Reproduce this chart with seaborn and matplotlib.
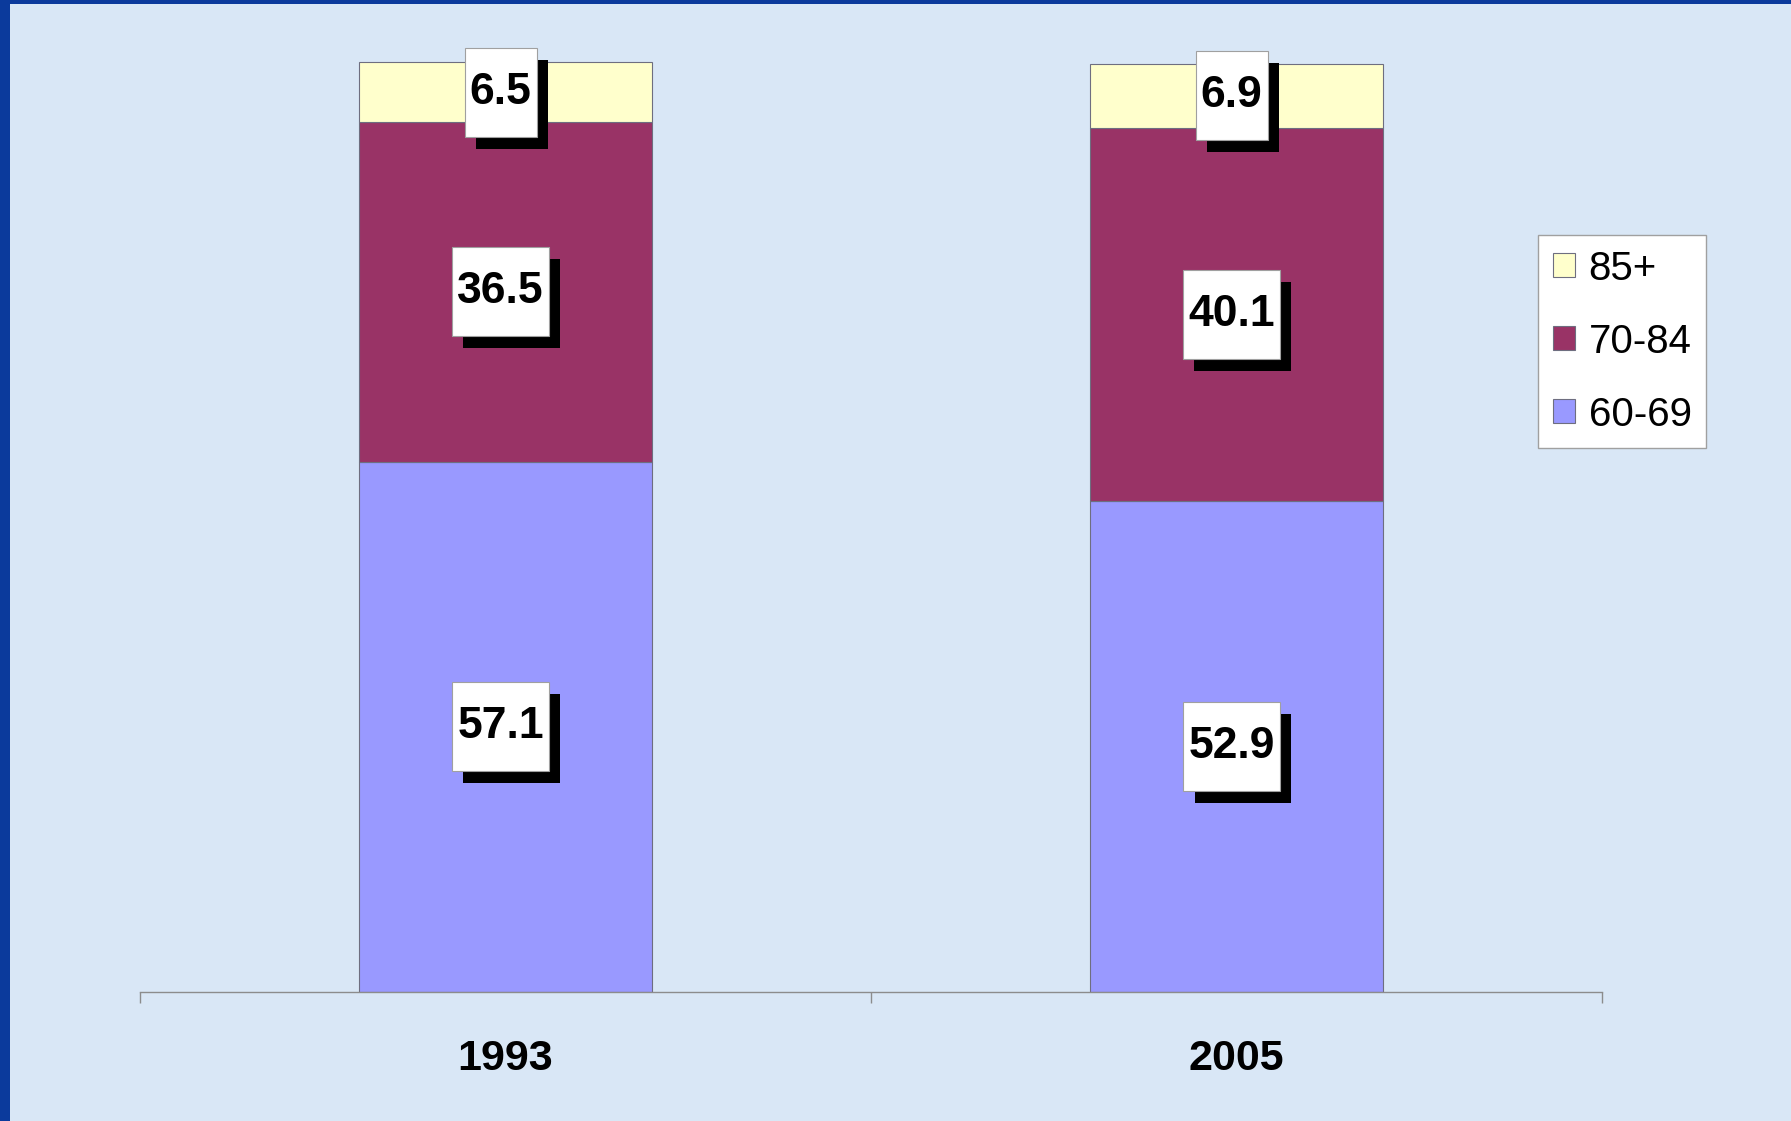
import matplotlib
matplotlib.use('Agg')
import matplotlib.pyplot as plt
import matplotlib.patheffects as pe
from matplotlib.path import Path
from matplotlib.patches import Rectangle
import seaborn as sns
import numpy as np
import pandas as pd

# ---- data ----
years = ['1993', '2005']
age_groups = ['60-69', '70-84', '85+']
share_60_69 = [57.1, 52.9]
share_70_84 = [36.5, 40.1]
share_85_plus = [6.5, 6.9]

# ---- style ----
colors = ['#9999FF', '#993366', '#FFFFCC']
BG = '#d9e7f6'
W, H = 1791, 1121

sns.set_style('white')
plt.rcParams['font.family'] = ['Liberation Sans', 'DejaVu Sans']
plt.rcParams['text.color'] = 'black'
plt.rcParams['xtick.labelcolor'] = 'black'

fig = plt.figure(figsize=(W / 100, H / 100), dpi=100, facecolor=BG)
ax = fig.add_axes([140 / W, 1 - 992 / H, (1602 - 140) / W, (992 - 53.7) / H])
ax.set_facecolor('none')

series = [share_60_69, share_70_84, share_85_plus]
bottom = np.zeros(len(years))
for name, vals, col in zip(age_groups, series, colors):
    df = pd.DataFrame({'year': years, 'share': vals})
    sns.barplot(data=df, x='year', y='share', color=col, saturation=1,
                width=0.4, bottom=bottom.copy(), edgecolor='#6e6e80',
                linewidth=0.8, ax=ax, label=name, errorbar=None)
    bottom = bottom + np.array(vals)


def label_box(x0, y0, width, height, mutation_size):
    px, py = 5, 24
    xa, ya = x0 - px, y0 - py
    xb, yb = x0 + width + px, y0 + height + py
    return Path([(xa, ya), (xb, ya), (xb, yb), (xa, yb), (xa, ya)], closed=True)


for cont, vals in zip(ax.containers, series):
    for patch, v in zip(cont.patches, vals):
        xc = patch.get_x() + patch.get_width() / 2
        yc = patch.get_y() + patch.get_height() / 2
        t = ax.annotate(f'{v:.1f}', xy=(xc, yc), xytext=(-3.5, 0),
                        textcoords='offset points', ha='center', va='center',
                        fontsize=32, fontweight='bold', color='black',
                        bbox=dict(boxstyle=label_box, facecolor='white',
                                  edgecolor='#a0a0a0', linewidth=0.8),
                        zorder=5)
        t.get_bbox_patch().set_path_effects([
            pe.SimplePatchShadow(offset=(8, -8.6), shadow_rgbFace='black', alpha=1.0),
            pe.Normal()])

ax.set_xlim(-0.5, 1.5)
ax.set_ylim(0, 101)
ax.set_yticks([])
ax.set_xlabel('')
ax.set_ylabel('')
ax.set_xticks([0, 1])
ax.set_xticklabels(years, fontsize=31, fontweight='bold', color='black')
ax.set_xticks([-0.5, 0.5, 1.5], minor=True)
ax.tick_params(axis='x', which='major', length=0, pad=34)
ax.tick_params(axis='x', which='minor', length=8, width=1, color='#8c8c8c',
               direction='out', bottom=True)
for s in ['top', 'right', 'left']:
    ax.spines[s].set_visible(False)
ax.spines['bottom'].set_color('#8c8c8c')
ax.spines['bottom'].set_linewidth(1)

handles = list(ax.containers)[::-1]
leg = ax.legend(handles, age_groups[::-1], loc='upper left',
                bbox_to_anchor=(1538 / W, 1 - 235 / H), bbox_transform=fig.transFigure,
                frameon=True, fancybox=False, framealpha=1, edgecolor='#a0a0a0',
                facecolor='white', fontsize=29, labelcolor='black',
                handlelength=0.55, handleheight=0.55,
                handletextpad=0.35, labelspacing=0.87, borderpad=0.36, borderaxespad=0)
leg.get_frame().set_linewidth(1)

# slide border strips
fig.patches.append(Rectangle((0, 0), 10 / W, 1, transform=fig.transFigure,
                             facecolor='#0b3a9c', edgecolor='none', zorder=10))
fig.patches.append(Rectangle((0, 1 - 4 / H), 1, 4 / H, transform=fig.transFigure,
                             facecolor='#0b3a9c', edgecolor='none', zorder=10))

fig.savefig('out.png', dpi=100, facecolor=BG)
